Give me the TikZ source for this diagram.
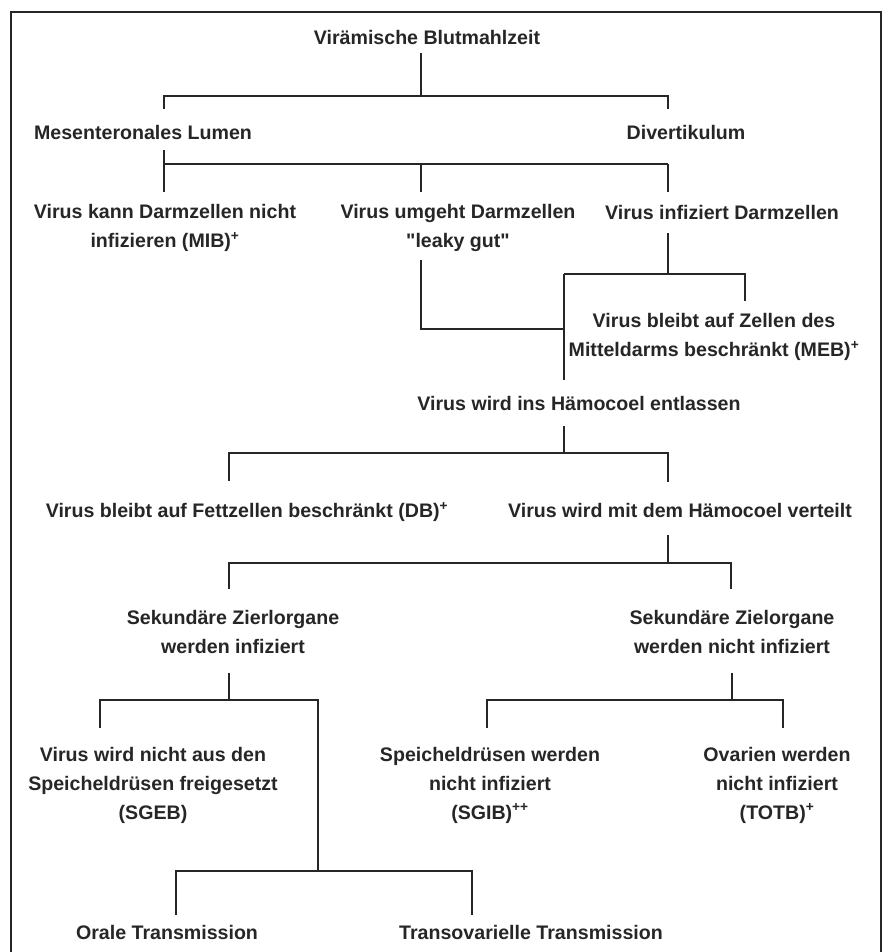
\documentclass[tikz,border=0pt]{standalone}
\usepackage{fontspec}
\newfontfamily\lblfont{Liberation Sans}

\begin{document}
\begin{tikzpicture}[x=1pt,y=-1pt,-,line width=2.7pt,color=black!85,
  lbl/.style={align=center,inner sep=0pt,outer sep=0pt,font=\lblfont\bfseries\fontsize{19.6}{29}\selectfont}]

\useasboundingbox (0,0) rectangle (882,952);
\draw[line width=2.8pt] (11,952) -- (11,12) -- (881,12) -- (881,952);

\node[lbl] (vbm) at (427,37) {Virämische Blutmahlzeit};
\node[lbl] (mes) at (143,132) {Mesenteronales Lumen};
\node[lbl] (div) at (686,132) {Divertikulum};
\node[lbl] (mib) at (165,228) {Virus kann Darmzellen nicht\\infizieren (MIB)\textsuperscript{+}};
\node[lbl] (leak) at (458,228) {Virus umgeht Darmzellen\\"leaky gut"};
\node[lbl] (inf) at (722,212) {Virus infiziert Darmzellen};
\node[lbl] (meb) at (714,337) {Virus bleibt auf Zellen des\\Mitteldarms beschränkt (MEB)\textsuperscript{+}};
\node[lbl] (haem) at (579,403) {Virus wird ins Hämocoel entlassen};
\node[lbl] (db) at (247,512) {Virus bleibt auf Fettzellen beschränkt (DB)\textsuperscript{+}};
\node[lbl] (vert) at (680,510) {Virus wird mit dem Hämocoel verteilt};
\node[lbl] (szi) at (233,632) {Sekundäre Zierlorgane\\werden infiziert};
\node[lbl] (szn) at (732,632) {Sekundäre Zielorgane\\werden nicht infiziert};
\node[lbl] (sgeb) at (153,785) {Virus wird nicht aus den\\Speicheldrüsen freigesetzt\\(SGEB)};
\node[lbl] (sgib) at (490,785) {Speicheldrüsen werden\\nicht infiziert\\(SGIB)\textsuperscript{++}};
\node[lbl] (totb) at (777,785) {Ovarien werden\\nicht infiziert\\(TOTB)\textsuperscript{+}};
\node[lbl] (oral) at (167,932) {Orale Transmission};
\node[lbl] (trans) at (531,932) {Transovarielle Transmission};

\coordinate (p1) at (421,96);
\coordinate (a1) at (164,96);
\coordinate (b1) at (668,96);
\coordinate (a2) at (164,164);
\coordinate (m2) at (421,164);
\coordinate (b2) at (668,164);
\coordinate (p3) at (668,274);
\coordinate (a3) at (564,274);
\coordinate (b3) at (745,274);
\coordinate (a4) at (421,329);
\coordinate (b4) at (564,329);
\coordinate (p5) at (564,453);
\coordinate (a5) at (229,453);
\coordinate (b5) at (668,453);
\coordinate (p6) at (668,563);
\coordinate (a6) at (229,563);
\coordinate (b6) at (731,563);
\coordinate (p7) at (229,700);
\coordinate (a7) at (100,700);
\coordinate (b7) at (318,700);
\coordinate (p8) at (732,700);
\coordinate (a8) at (487,700);
\coordinate (b8) at (783,700);
\coordinate (p9) at (318,871);
\coordinate (a9) at (176,871);
\coordinate (b9) at (472,871);

\draw[shorten <=9pt] (vbm.south -| p1) -- (p1);
\draw[shorten <=16pt,shorten >=16pt] (mes.north -| a1) -- (a1) -- (b1) -- (b1 |- div.north);

\draw[shorten <=11pt] (mes.south -| a2) -- (a2);
\draw (a2) -- (b2);
\draw[shorten >=12pt] (a2) -- (a2 |- mib.north);
\draw[shorten >=12pt] (m2) -- (m2 |- leak.north);
\draw[shorten >=13pt] (b2) -- (b2 |- inf.north);

\draw[shorten <=14pt] (inf.south -| p3) -- (p3);
\draw[shorten >=12pt] (a3) -- (b3) -- (b3 |- meb.north);
\draw[shorten >=16pt] (a3) -- (a3 |- haem.north);
\draw[shorten <=8pt] (leak.south -| a4) -- (a4) -- (b4);

\draw[shorten <=16pt] (haem.south -| p5) -- (p5);
\draw[shorten <=21pt,shorten >=21pt] (db.north -| a5) -- (a5) -- (b5) -- (b5 |- vert.north);

\draw[shorten <=18pt] (vert.south -| p6) -- (p6);
\draw[shorten <=21pt,shorten >=21pt] (szi.north -| a6) -- (a6) -- (b6) -- (b6 |- szn.north);

\draw[shorten <=19pt] (szi.south -| p7) -- (p7);
\draw[shorten <=19pt] (sgeb.north -| a7) -- (a7) -- (b7) -- (p9);
\draw[shorten <=19pt] (szn.south -| p8) -- (p8);
\draw[shorten <=19pt,shorten >=19pt] (sgib.north -| a8) -- (a8) -- (b8) -- (b8 |- totb.north);

\draw[shorten <=10pt,shorten >=10pt] (oral.north -| a9) -- (a9) -- (b9) -- (b9 |- trans.north);

\end{tikzpicture}
\end{document}
